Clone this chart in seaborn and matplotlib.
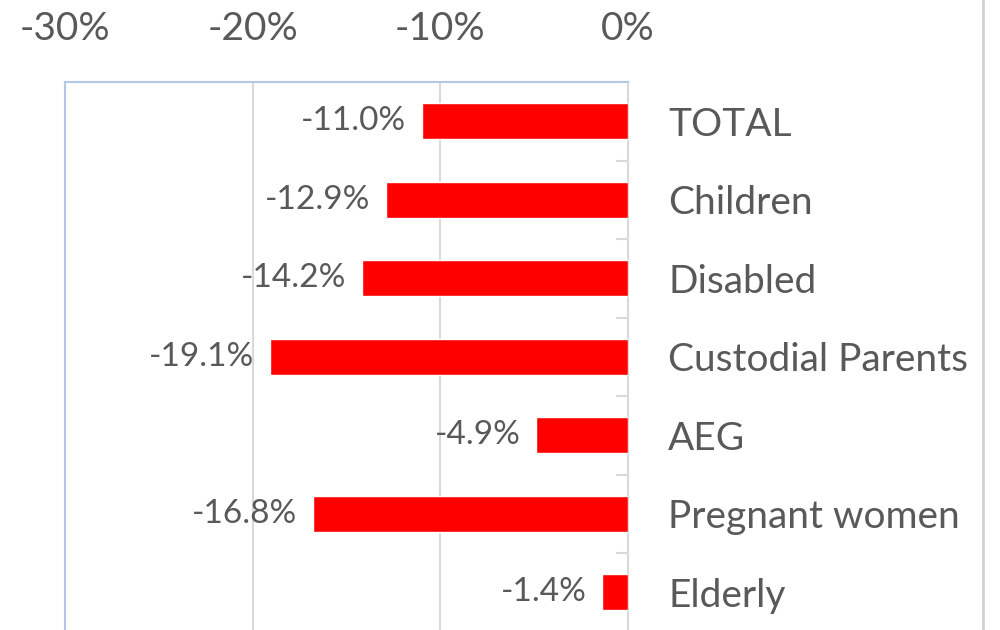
import matplotlib
matplotlib.use("Agg")
import matplotlib.pyplot as plt
from matplotlib.lines import Line2D
from matplotlib.ticker import FixedLocator, FuncFormatter
import seaborn as sns
import pandas as pd

categories = ["TOTAL", "Children", "Disabled", "Custodial Parents", "AEG",
              "Pregnant women", "Elderly"]
values = [-11.0, -12.9, -14.2, -19.1, -4.9, -16.8, -1.4]
x_ticks = [-30, -20, -10, 0]

sns.set_style("white")
plt.rcParams["font.family"] = ["Lato", "DejaVu Sans"]

TXT = "#595959"
GRID = "#d9d9d9"
BLUE = "#b4c7e7"

df = pd.DataFrame({"category": categories, "value": values})

fig = plt.figure(figsize=(10, 6.3), dpi=100)
ax = fig.add_axes([0.065, -1.5 / 630, 0.563, 549.5 / 630])

sns.barplot(data=df, y="category", x="value", orient="h", color="#ff0000",
            width=0.46, edgecolor="white", linewidth=1, saturation=1, ax=ax,
            zorder=3)

ax.set_xlim(-30, 0)
ax.set_ylim(len(categories) - 0.5, -0.5)
ax.xaxis.tick_top()
ax.xaxis.set_major_locator(FixedLocator(x_ticks))
ax.xaxis.set_major_formatter(FuncFormatter(lambda v, p: f"{v:.0f}%"))
ax.tick_params(axis="x", length=0, pad=25, labelsize=28, labelcolor=TXT)
ax.set_xlabel("")
ax.set_ylabel("")

ax.yaxis.tick_right()
ax.tick_params(axis="y", which="major", length=0, pad=29, labelsize=28,
               labelcolor=TXT)
ax.yaxis.set_minor_locator(FixedLocator([i + 0.5 for i in range(-1, len(categories))]))
ax.tick_params(axis="y", which="minor", length=9, width=1.5, color=GRID,
               direction="in", right=True, left=False)

for gx in [-20, -10]:
    ax.axvline(gx, color=GRID, lw=1.5, zorder=1)

for side in ["left", "top"]:
    ax.spines[side].set_visible(True)
    ax.spines[side].set_color(BLUE)
    ax.spines[side].set_linewidth(1.5)
ax.spines["right"].set_visible(True)
ax.spines["right"].set_color(GRID)
ax.spines["right"].set_linewidth(1.5)
ax.spines["bottom"].set_visible(False)
ax.grid(False)

ax.bar_label(ax.containers[0], labels=[f"{v:.1f}%" for v in values],
             padding=11, fontsize=24, color=TXT)

fig.add_artist(Line2D([0.983, 0.983], [0, 1], transform=fig.transFigure,
                      color="#d0d0d0", lw=2))

fig.savefig("out.png", dpi=100, facecolor="white")
